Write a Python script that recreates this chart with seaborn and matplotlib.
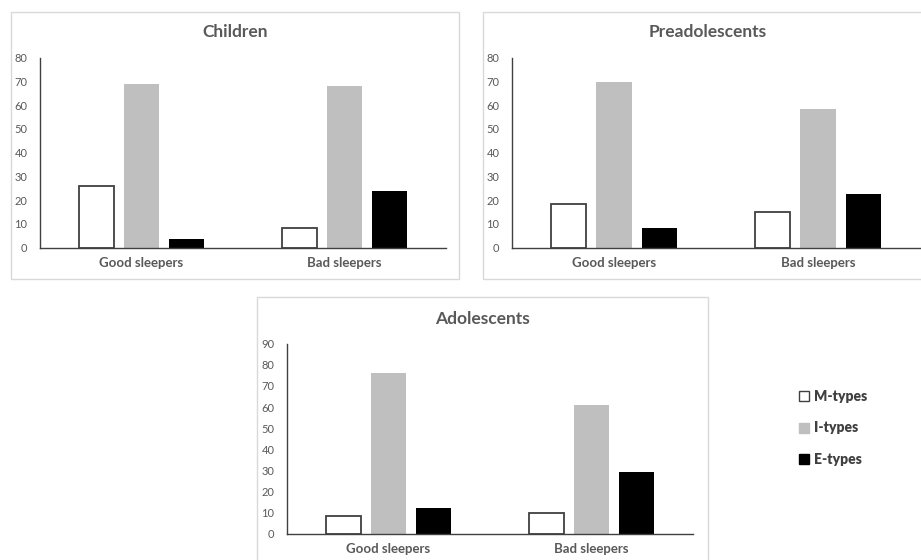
import matplotlib
matplotlib.use("Agg")
from matplotlib import pyplot as plt
from matplotlib.patches import Rectangle, Patch
import seaborn as sns
import pandas as pd

# values (percent)
sleep_groups = ["Good sleepers", "Bad sleepers"]
types = ["M-types", "I-types", "E-types"]
children = {"M-types": [26, 8.3], "I-types": [69, 68], "E-types": [3.6, 24]}
preadolescents = {"M-types": [18.5, 15], "I-types": [69.5, 58.5], "E-types": [8.4, 22.5]}
adolescents = {"M-types": [8.4, 9.8], "I-types": [76, 61], "E-types": [12, 29]}

panels = [("Children", children, 80), ("Preadolescents", preadolescents, 80),
          ("Adolescents", adolescents, 90)]
colors = {"M-types": "#ffffff", "I-types": "#bfbfbf", "E-types": "#000000"}

sns.set_style("white")
plt.rcParams["font.family"] = ["Lato", "DejaVu Sans"]

W, H = 921, 560
fig = plt.figure(figsize=(W / 100, H / 100), dpi=100)

def fx(px):
    return px / W

def fy(py):
    return 1 - py / H

# axes boxes in pixels: left, right, top(ymax), bottom(0)
axes_px = [(40, 446, 57.5, 247.7), (512, 920, 57.5, 247.7), (287, 693, 343.7, 533.7)]
frames_px = [(11, 12, 459, 279), (483, 12, 935, 279), (257, 297, 708, 575)]
titles_px = [(235, 32), (708, 32), (482, 319)]

for (name, vals, ymax), (l, r, t, b), (fl, ft, fr, fb), (tx, ty) in zip(
        panels, axes_px, frames_px, titles_px):
    fig.patches.append(Rectangle((fx(fl), fy(fb)), fx(fr - fl), (fb - ft) / H,
                                 transform=fig.transFigure, fill=False,
                                 edgecolor="#d9d9d9", linewidth=1, zorder=0))
    rows = []
    for t_ in types:
        for s, v in zip(sleep_groups, vals[t_]):
            rows.append({"sleep": s, "type": t_, "value": v})
    df = pd.DataFrame(rows)

    ax = fig.add_axes([fx(l), fy(b), fx(r - l), (b - t) / H])
    ax.patch.set_alpha(0)
    sns.barplot(data=df, x="sleep", y="value", hue="type", hue_order=types,
                order=sleep_groups, palette=colors, saturation=1,
                width=0.665, gap=0.225, ax=ax, legend=False)
    for p in ax.containers[0]:
        p.set_edgecolor("#404040")
        p.set_linewidth(1.3)
    for c in ax.containers[1:]:
        for p in c:
            p.set_linewidth(0)

    ax.set_xlim(-0.5, 1.5)
    ax.set_ylim(0, ymax)
    ax.set_yticks(range(0, ymax + 1, 10))
    ax.set_xlabel("")
    ax.set_ylabel("")
    for side in ["top", "right"]:
        ax.spines[side].set_visible(False)
    ax.spines["left"].set_color("#404040")
    ax.spines["bottom"].set_color("#404040")
    ax.spines["left"].set_linewidth(1)
    ax.spines["bottom"].set_linewidth(1)
    ax.tick_params(axis="y", length=0, pad=9, labelsize=8, labelcolor="#595959")
    ax.tick_params(axis="x", length=0, pad=7, labelsize=9.5, labelcolor="#595959")
    for lab in ax.get_xticklabels():
        lab.set_fontweight("bold")

    fig.text(fx(tx), fy(ty), name, ha="center", va="center", fontsize=12.5,
             fontweight="bold", color="#595959")

handles = [Patch(facecolor=colors[t_], edgecolor="#404040" if t_ == "M-types" else colors[t_],
                 linewidth=1) for t_ in types]
leg = fig.legend(handles, types, loc="center left", bbox_to_anchor=(fx(786), fy(428)),
                 frameon=False, handlelength=0.75, handleheight=0.75, handletextpad=0.35,
                 labelspacing=1.35, fontsize=10)
for txt in leg.get_texts():
    txt.set_fontweight("heavy")
    txt.set_color("#404040")

fig.savefig("out.png", dpi=100)
